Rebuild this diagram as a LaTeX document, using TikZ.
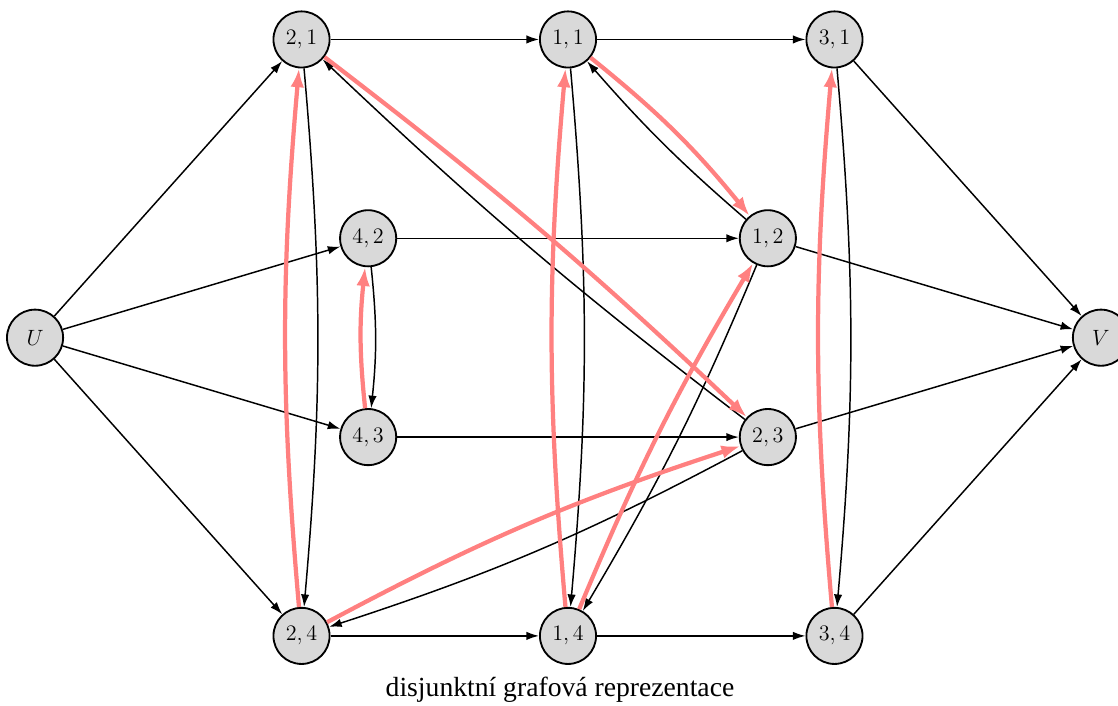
\documentclass[tikz,border=0pt]{standalone}
\usepackage{fontspec}
\newfontfamily\popisfont{Liberation Serif}
\usetikzlibrary{arrows.meta}

\begin{document}
\begin{tikzpicture}[x=2.54cm,y=1.895cm]
\tikzstyle{vrchol}=[circle,draw,line width=1pt,fill=black!15,minimum size=1.07cm,inner sep=0pt,font=\large]
\tikzstyle{hrana}=[-{Latex[length=2.4mm,width=1.6mm]},thick]
\tikzstyle{cesta}=[-{Latex[length=3.6mm,width=2.6mm]},line width=2.3pt,draw=red!50]
\useasboundingbox (-0.263,-3.698) rectangle (8.128,3.397);
\node[vrchol] (U) at (0,0) {$U$};
\node[vrchol] (v21) at (2,3) {$2,1$};
\node[vrchol] (v11) at (4,3) {$1,1$};
\node[vrchol] (v31) at (6,3) {$3,1$};
\node[vrchol] (v42) at (2.5,1) {$4,2$};
\node[vrchol] (v12) at (5.5,1) {$1,2$};
\node[vrchol] (V) at (8,0) {$V$};
\node[vrchol] (v43) at (2.5,-1) {$4,3$};
\node[vrchol] (v23) at (5.5,-1) {$2,3$};
\node[vrchol] (v24) at (2,-3) {$2,4$};
\node[vrchol] (v14) at (4,-3) {$1,4$};
\node[vrchol] (v34) at (6,-3) {$3,4$};
\node[font=\popisfont\fontsize{15}{18}\selectfont] (popis) at (3.94,-3.54) {disjunktní grafová reprezentace};
\draw[hrana] (U) -- (v21);
\draw[hrana] (U) -- (v42);
\draw[hrana] (U) -- (v43);
\draw[hrana] (U) -- (v24);
\draw[hrana] (v21) -- (v11);
\draw[hrana] (v11) -- (v31);
\draw[hrana] (v42) -- (v12);
\draw[hrana] (v43) -- (v23);
\draw[hrana] (v24) -- (v14);
\draw[hrana] (v14) -- (v34);
\draw[hrana] (v31) -- (V);
\draw[hrana] (v12) -- (V);
\draw[hrana] (v23) -- (V);
\draw[hrana] (v34) -- (V);
\draw[hrana] (v21) to[bend left=5] (v24);
\draw[hrana] (v42) to[bend left=6] (v43);
\draw[hrana] (v11) to[bend left=5] (v14);
\draw[hrana] (v12) to[bend left=4] (v11);
\draw[hrana] (v23) to[bend left=3] (v21);
\draw[hrana] (v23) to[bend left=5] (v24);
\draw[hrana] (v12) to[bend left=4] (v14);
\draw[hrana] (v31) to[bend left=5] (v34);
\draw[cesta] (v24) to[bend left=5] (v21);
\draw[cesta] (v43) to[bend left=6] (v42);
\draw[cesta] (v14) to[bend left=5] (v11);
\draw[cesta] (v11) to[bend left=6] (v12);
\draw[cesta] (v21) to[bend left=3] (v23);
\draw[cesta] (v24) to[bend left=5] (v23);
\draw[cesta] (v14) to[bend left=4] (v12);
\draw[cesta] (v34) to[bend left=5] (v31);
\end{tikzpicture}
\end{document}
